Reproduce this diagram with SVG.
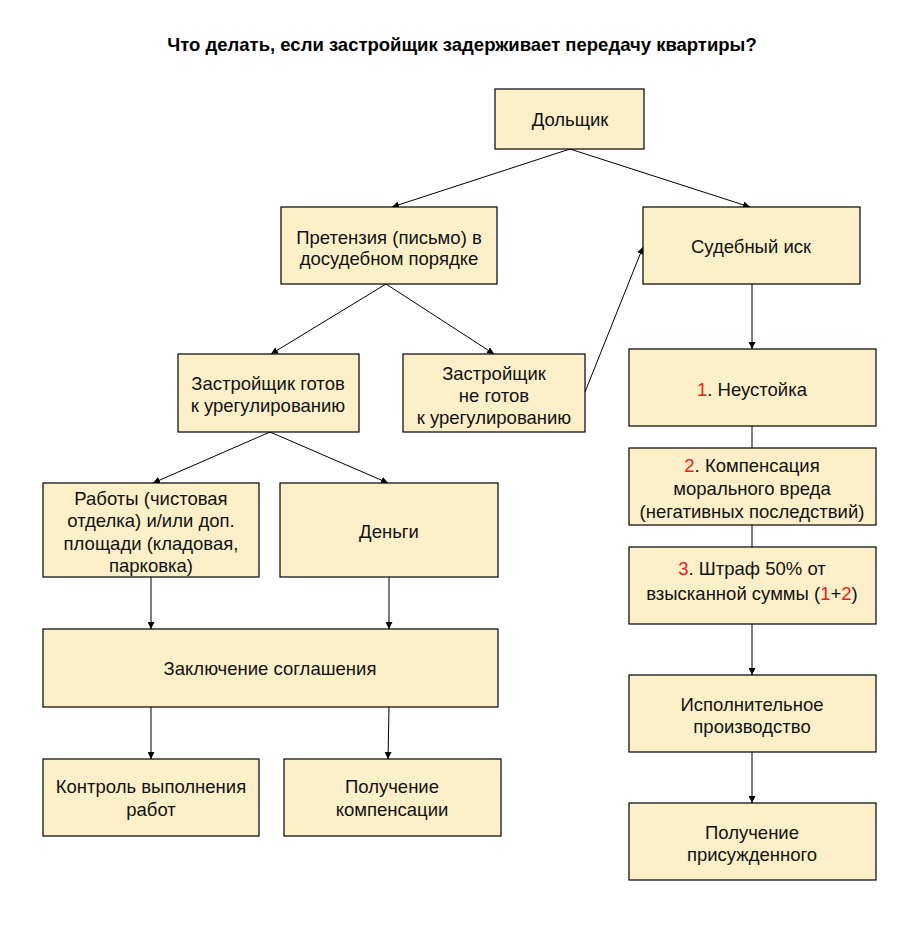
<svg xmlns="http://www.w3.org/2000/svg" width="924" height="932" viewBox="0 0 924 932">
<style>
.box{fill:#fdf0c9;stroke:#000;stroke-width:1.2}
.t{font-family:"Liberation Sans",Arial,sans-serif;font-size:18.5px;fill:#111;text-anchor:middle}
.r{fill:#e8201c}
.title{font-family:"Liberation Sans",Arial,sans-serif;font-size:18.5px;font-weight:bold;fill:#000;text-anchor:middle}
.c{stroke:#000;stroke-width:1;fill:none}
.a{marker-end:url(#arr)}
</style>
<defs>
<marker id="arr" viewBox="0 0 10 10" refX="10" refY="5" markerWidth="7" markerHeight="7" markerUnits="userSpaceOnUse" orient="auto">
<path d="M0,0 L10,5 L0,10 z" fill="#000"/>
</marker>
</defs>
<rect width="924" height="932" fill="#fff"/>
<text class="title" x="462" y="51">Что делать, если застройщик задерживает передачу квартиры?</text>

<g id="connectors">
<line class="c a" x1="570" y1="149" x2="392" y2="207"/>
<line class="c a" x1="570" y1="149" x2="750" y2="207"/>
<line class="c a" x1="386" y1="284" x2="271" y2="354"/>
<line class="c a" x1="386" y1="284" x2="494" y2="354"/>
<line class="c a" x1="585" y1="392" x2="643" y2="247"/>
<line class="c a" x1="752" y1="284" x2="752" y2="349"/>
<line class="c" x1="752" y1="426" x2="752" y2="448"/>
<line class="c" x1="752" y1="525" x2="752" y2="547"/>
<line class="c a" x1="752" y1="624" x2="752" y2="675"/>
<line class="c a" x1="752" y1="752" x2="752" y2="803"/>
<line class="c a" x1="270" y1="432" x2="153" y2="483"/>
<line class="c a" x1="270" y1="432" x2="388" y2="483"/>
<line class="c a" x1="151" y1="577" x2="151" y2="629"/>
<line class="c a" x1="389" y1="577" x2="389" y2="629"/>
<line class="c a" x1="151" y1="707" x2="151" y2="759"/>
<line class="c a" x1="389" y1="707" x2="388" y2="759"/>
</g>

<g id="dolshik">
<rect class="box" x="495" y="89" width="149" height="60"/>
<text class="t" x="570" y="126">Дольщик</text>
</g>
<g id="pretenziya">
<rect class="box" x="281" y="207" width="216" height="77"/>
<text class="t" x="389" y="244">Претензия (письмо) в</text>
<text class="t" x="389" y="265">досудебном порядке</text>
</g>
<g id="sud">
<rect class="box" x="643" y="207" width="217" height="77"/>
<text class="t" x="751" y="253">Судебный иск</text>
</g>
<g id="gotov">
<rect class="box" x="178" y="354" width="181" height="78"/>
<text class="t" x="268" y="390">Застройщик готов</text>
<text class="t" x="268" y="412">к урегулированию</text>
</g>
<g id="ne-gotov">
<rect class="box" x="403" y="354" width="182" height="78"/>
<text class="t" x="494" y="380">Застройщик</text>
<text class="t" x="494" y="402">не готов</text>
<text class="t" x="494" y="424">к урегулированию</text>
</g>
<g id="neustoyka">
<rect class="box" x="629" y="349" width="247" height="77"/>
<text class="t" x="752" y="396"><tspan class="r">1</tspan>. Неустойка</text>
</g>
<g id="kompensaciya">
<rect class="box" x="629" y="448" width="247" height="77"/>
<text class="t" x="752" y="472"><tspan class="r">2</tspan>. Компенсация</text>
<text class="t" x="752" y="495">морального вреда</text>
<text class="t" x="752" y="518">(негативных последствий)</text>
</g>
<g id="shtraf">
<rect class="box" x="629" y="547" width="247" height="77"/>
<text class="t" x="752" y="575"><tspan class="r">3</tspan>. Штраф 50% от</text>
<text class="t" x="752" y="600">взысканной суммы (<tspan class="r">1</tspan>+<tspan class="r">2</tspan>)</text>
</g>
<g id="ispolnitelnoe">
<rect class="box" x="629" y="675" width="247" height="77"/>
<text class="t" x="752" y="711">Исполнительное</text>
<text class="t" x="752" y="733">производство</text>
</g>
<g id="prisuzhdennoe">
<rect class="box" x="629" y="803" width="247" height="77"/>
<text class="t" x="752" y="839">Получение</text>
<text class="t" x="752" y="861">присужденного</text>
</g>
<g id="raboty">
<rect class="box" x="43" y="483" width="216" height="94"/>
<text class="t" x="151" y="505">Работы (чистовая</text>
<text class="t" x="151" y="527">отделка) и/или доп.</text>
<text class="t" x="151" y="550">площади (кладовая,</text>
<text class="t" x="151" y="572">парковка)</text>
</g>
<g id="dengi">
<rect class="box" x="280" y="483" width="218" height="94"/>
<text class="t" x="389" y="538">Деньги</text>
</g>
<g id="soglashenie">
<rect class="box" x="43" y="629" width="455" height="78"/>
<text class="t" x="270" y="675">Заключение соглашения</text>
</g>
<g id="kontrol">
<rect class="box" x="43" y="759" width="216" height="77"/>
<text class="t" x="151" y="793">Контроль выполнения</text>
<text class="t" x="151" y="816">работ</text>
</g>
<g id="poluchenie-komp">
<rect class="box" x="284" y="759" width="217" height="77"/>
<text class="t" x="392" y="793">Получение</text>
<text class="t" x="392" y="816">компенсации</text>
</g>
</svg>
